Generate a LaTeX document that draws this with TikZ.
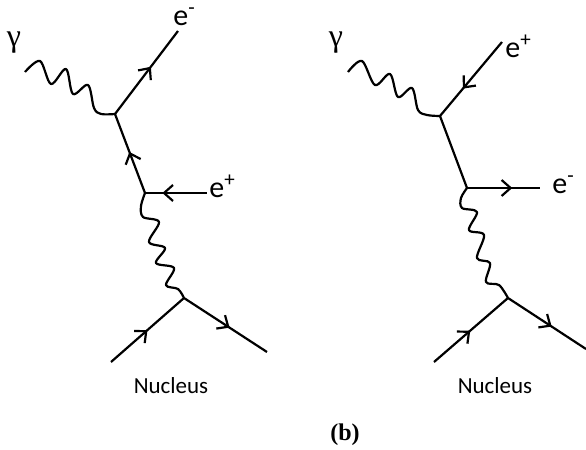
\documentclass[tikz,border=0pt]{standalone}
\usepackage{fontspec}
\setmainfont{Carlito}
\newfontfamily\serifb{Liberation Serif}
\usetikzlibrary{arrows.meta,decorations.markings}

\tikzset{
  fermion/.style={line width=1.1pt, postaction={decorate, decoration={markings,
      mark=at position #1 with {\arrow{Straight Barb[length=4.5pt,width=8pt]}}}}},
  fermion/.default=0.55,
  plain/.style={line width=1.1pt},
  photon/.style={line width=1.1pt, line join=round},
  lbl/.style={inner sep=0pt, font=\fontsize{15}{17}\selectfont},
  nuc/.style={inner sep=0pt, font=\fontsize{11.5}{13}\selectfont},
  gam/.style={inner sep=0pt, font=\serifb\fontsize{16}{18}\selectfont}
}

\begin{document}
\begin{tikzpicture}[x=0.5pt, y=-0.5pt]
    \useasboundingbox (0,0) rectangle (586,450);

    % Left diagram: vertices and free ends
    \coordinate (aV1) at (115,114);
    \coordinate (aV2) at (145,193);
    \coordinate (aV3) at (184,298);
    \coordinate (aG)  at (25,72);
    \coordinate (aEm) at (178,31);
    \coordinate (aEp) at (207,193);
    \coordinate (aNi) at (111,362);
    \coordinate (aNo) at (267,352);

    % Left diagram: labels
    \node[gam] (aGl) at (14,43) {γ};
    \node[lbl, anchor=base west] (aEml) at (173,25) {e\textsuperscript{-}};
    \node[lbl, anchor=base west] (aEpl) at (209,197) {e\textsuperscript{+}};
    \node[nuc, anchor=base] (aNuc) at (171,393) {Nucleus};

    % Left diagram: lines
    \draw[photon] plot[smooth, tension=0.55] coordinates {(aG) (40,61) (51,84) (66,69)
        (73,94) (88,85) (94,108) (101,114) (aV1)};
    \draw[fermion=0.57] (aV1) -- (aEm);
    \draw[fermion=0.52] (aV2) -- (aV1);
    \draw[fermion=0.72] (aEp) -- (aV2);
    \draw[photon] plot[smooth, tension=0.55] coordinates {(aV2) (141,206) (143,217)
        (159,222) (149,242) (165,248) (156,263) (174,268) (166,285) (178,289) (aV3)};
    \draw[fermion=0.5] (aNi) -- (aV3);
    \draw[fermion=0.55] (aV3) -- (aNo);

    % Right diagram: vertices and free ends
    \coordinate (bV1) at (440,116);
    \coordinate (bV2) at (467,188);
    \coordinate (bV3) at (508,298);
    \coordinate (bG)  at (348,72);
    \coordinate (bEp) at (502,42);
    \coordinate (bEm) at (540,188);
    \coordinate (bNi) at (434,362);
    \coordinate (bNo) at (586,349);

    % Right diagram: labels
    \node[gam] (bGl) at (336,43) {γ};
    \node[lbl, anchor=base west] (bEpl) at (505,57) {e\textsuperscript{+}};
    \node[lbl, anchor=base west] (bEml) at (552,193) {e\textsuperscript{-}};
    \node[nuc, anchor=base] (bNuc) at (495,393) {Nucleus};

    % Right diagram: lines
    \draw[photon] plot[smooth, tension=0.55] coordinates {(bG) (362,61) (375,85) (390,74)
        (398,97) (412,88) (418,110) (427,115) (bV1)};
    \draw[fermion=0.63] (bEp) -- (bV1);
    \draw[plain] (bV1) -- (bV2);
    \draw[fermion=0.62] (bV2) -- (bEm);
    \draw[photon] plot[smooth, tension=0.55] coordinates {(bV2) (461,198) (462,208)
        (477,212) (469,230) (484,235) (477,258) (490,263) (486,282) (499,285) (bV3)};
    \draw[fermion=0.49] (bNi) -- (bV3);
    \draw[fermion=0.56] (bV3) -- (bNo);

    % Caption
    \node[inner sep=0pt, font=\serifb\bfseries\fontsize{12}{14}\selectfont] (cap) at (345,435) {(b)};
\end{tikzpicture}
\end{document}
